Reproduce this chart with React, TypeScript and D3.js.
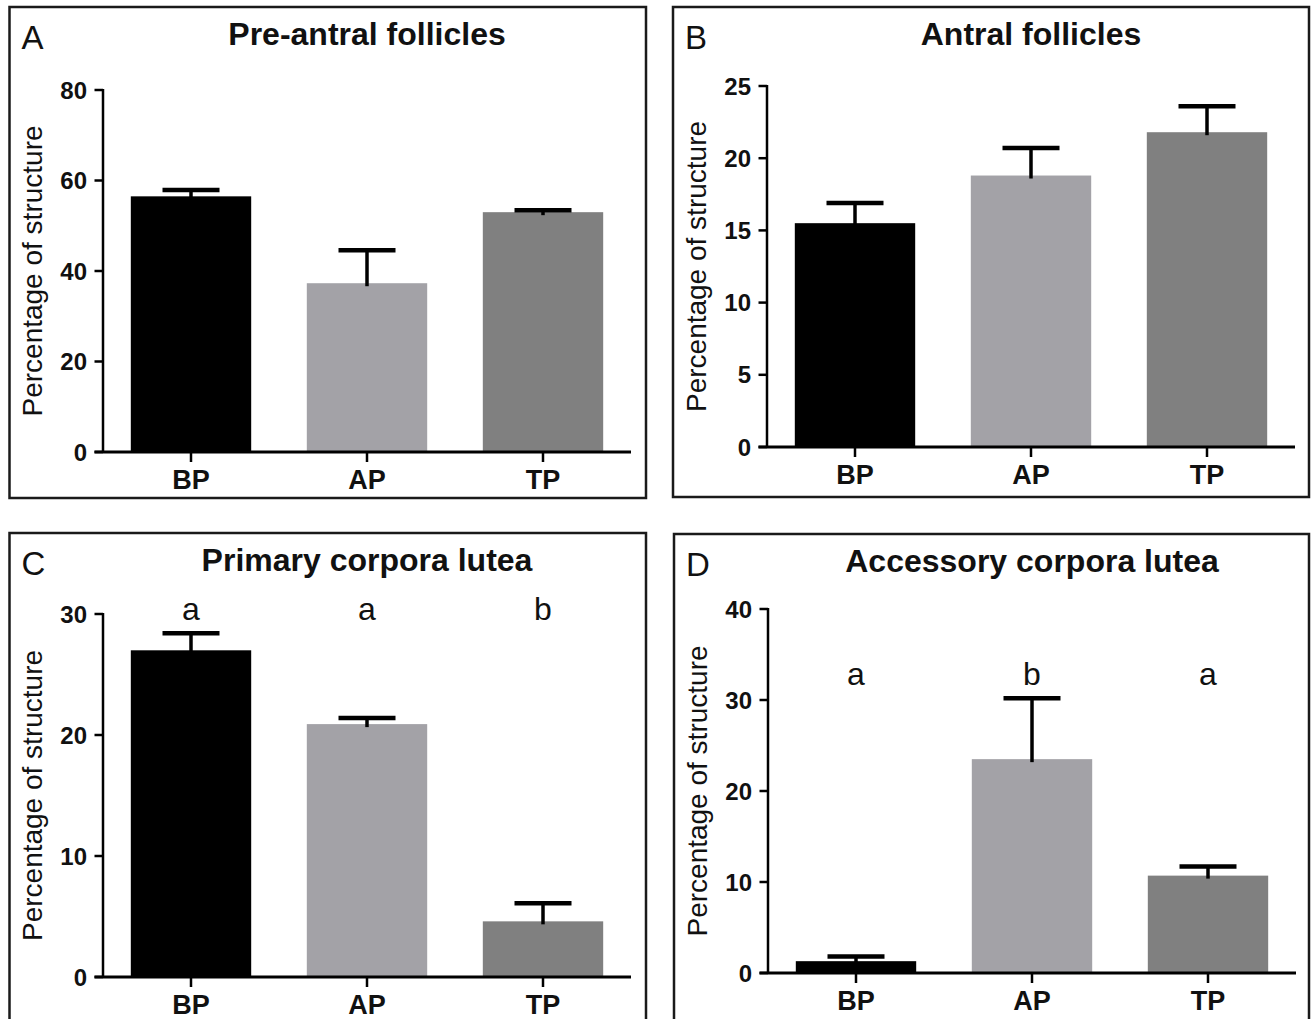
import { useEffect, useRef } from 'react';
import * as d3 from 'd3';

const groups = ['BP', 'AP', 'TP'];
const barColors = ['#000000', '#a3a2a7', '#808080'];

// A - pre-antral follicles
const preAntralMeans = [56.5, 37.3, 53.0];
const preAntralErrors = [1.4, 7.3, 0.4];
const preAntralTicks = [0, 20, 40, 60, 80];

// B - antral follicles
const antralMeans = [15.5, 18.8, 21.8];
const antralErrors = [1.4, 1.9, 1.8];
const antralTicks = [0, 5, 10, 15, 20, 25];

// C - primary corpora lutea
const primaryMeans = [27.0, 20.9, 4.6];
const primaryErrors = [1.4, 0.5, 1.5];
const primaryTicks = [0, 10, 20, 30];
const primaryLetters = ['a', 'a', 'b'];

// D - accessory corpora lutea
const accessoryMeans = [1.3, 23.5, 10.7];
const accessoryErrors = [0.5, 6.7, 1.0];
const accessoryTicks = [0, 10, 20, 30, 40];
const accessoryLetters = ['a', 'b', 'a'];

const SANS = "'Liberation Sans', Arial, Helvetica, sans-serif";

interface Panel {
  tag: string;
  title: string;
  means: number[];
  errors: number[];
  ticks: number[];
  letters?: string[];
  letterAt?: number;
  box: [number, number, number, number];
  plot: { left: number; right: number; top: number; bottom: number };
}

const panels: Panel[] = [
  {
    tag: 'A', title: 'Pre-antral follicles',
    means: preAntralMeans, errors: preAntralErrors, ticks: preAntralTicks,
    box: [9.5, 7, 646, 498],
    plot: { left: 103, right: 631, top: 90, bottom: 452 },
  },
  {
    tag: 'B', title: 'Antral follicles',
    means: antralMeans, errors: antralErrors, ticks: antralTicks,
    box: [673, 7, 1309, 497],
    plot: { left: 767, right: 1295, top: 86, bottom: 447 },
  },
  {
    tag: 'C', title: 'Primary corpora lutea',
    means: primaryMeans, errors: primaryErrors, ticks: primaryTicks,
    letters: primaryLetters, letterAt: 29.5,
    box: [9.5, 533, 646, 1040],
    plot: { left: 103, right: 631, top: 614, bottom: 977 },
  },
  {
    tag: 'D', title: 'Accessory corpora lutea',
    means: accessoryMeans, errors: accessoryErrors, ticks: accessoryTicks,
    letters: accessoryLetters, letterAt: 31.7,
    box: [674, 534, 1309, 1040],
    plot: { left: 768, right: 1296, top: 609, bottom: 973 },
  },
];

export default function App() {
  const ref = useRef<SVGSVGElement>(null);

  useEffect(() => {
    if (!ref.current) return;
    const svg = d3.select(ref.current);
    svg.selectAll('*').remove();

    panels.forEach((p) => {
      const g = svg.append('g');
      const { left, right, top, bottom } = p.plot;
      const yMax = p.ticks[p.ticks.length - 1];

      const x = d3.scaleBand().domain(groups).range([left, right]).paddingInner(0.316).paddingOuter(0.158);
      const y = d3.scaleLinear().domain([0, yMax]).range([bottom, top]);

      // frame
      g.append('rect')
        .attr('x', p.box[0])
        .attr('y', p.box[1])
        .attr('width', p.box[2] - p.box[0])
        .attr('height', p.box[3] - p.box[1])
        .attr('fill', 'none')
        .attr('stroke', '#1a1a1a')
        .attr('stroke-width', 2.5);

      // panel tag and title
      g.append('text')
        .attr('x', p.box[0] + 12)
        .attr('y', p.box[1] + 42)
        .attr('font-family', SANS)
        .attr('font-size', 33)
        .attr('fill', '#111')
        .text(p.tag);

      g.append('text')
        .attr('x', (left + right) / 2)
        .attr('y', p.box[1] + 38)
        .attr('text-anchor', 'middle')
        .attr('font-family', SANS)
        .attr('font-weight', 'bold')
        .attr('font-size', 32)
        .attr('fill', '#111')
        .text(p.title);

      // bars
      g.selectAll('rect.bar')
        .data(p.means)
        .enter()
        .append('rect')
        .attr('class', 'bar')
        .attr('x', (_, i) => x(groups[i]) ?? 0)
        .attr('y', (d) => y(d))
        .attr('width', x.bandwidth())
        .attr('height', (d) => bottom - y(d))
        .attr('fill', (_, i) => barColors[i]);

      // error bars (upper only)
      const cx = (i: number) => (x(groups[i]) ?? 0) + x.bandwidth() / 2;
      p.means.forEach((m, i) => {
        const yTop = y(m + p.errors[i]);
        g.append('line')
          .attr('x1', cx(i)).attr('x2', cx(i))
          .attr('y1', y(m) + 3).attr('y2', yTop)
          .attr('stroke', '#000').attr('stroke-width', 3.5);
        g.append('line')
          .attr('x1', cx(i) - 28.5).attr('x2', cx(i) + 28.5)
          .attr('y1', yTop).attr('y2', yTop)
          .attr('stroke', '#000').attr('stroke-width', 4.5);
      });

      // y axis
      g.append('line')
        .attr('x1', left).attr('x2', left)
        .attr('y1', top - 1).attr('y2', bottom)
        .attr('stroke', '#000').attr('stroke-width', 2.5);
      p.ticks.forEach((t) => {
        g.append('line')
          .attr('x1', left - 8.5).attr('x2', left)
          .attr('y1', y(t)).attr('y2', y(t))
          .attr('stroke', '#000').attr('stroke-width', 2.5);
        g.append('text')
          .attr('x', left - 16)
          .attr('y', y(t))
          .attr('dy', '0.36em')
          .attr('text-anchor', 'end')
          .attr('font-family', SANS)
          .attr('font-weight', 'bold')
          .attr('font-size', 24)
          .attr('fill', '#111')
          .text(t);
      });

      // x axis
      g.append('line')
        .attr('x1', left - 8.5).attr('x2', right)
        .attr('y1', bottom).attr('y2', bottom)
        .attr('stroke', '#000').attr('stroke-width', 3);
      groups.forEach((grp, i) => {
        g.append('line')
          .attr('x1', cx(i)).attr('x2', cx(i))
          .attr('y1', bottom).attr('y2', bottom + 10)
          .attr('stroke', '#000').attr('stroke-width', 2.5);
        g.append('text')
          .attr('x', cx(i))
          .attr('y', bottom + 37)
          .attr('text-anchor', 'middle')
          .attr('font-family', SANS)
          .attr('font-weight', 'bold')
          .attr('font-size', 27)
          .attr('fill', '#111')
          .text(grp);
      });

      // y label
      g.append('text')
        .attr('transform', `translate(${left - 61},${(top + bottom) / 2}) rotate(-90)`)
        .attr('text-anchor', 'middle')
        .attr('font-family', SANS)
        .attr('font-size', 28)
        .attr('fill', '#111')
        .text('Percentage of structure');

      // significance letters
      if (p.letters && p.letterAt !== undefined) {
        p.letters.forEach((l, i) => {
          g.append('text')
            .attr('x', cx(i))
            .attr('y', y(p.letterAt!))
            .attr('text-anchor', 'middle')
            .attr('font-family', SANS)
            .attr('font-size', 32)
            .attr('fill', '#111')
            .text(l);
        });
      }
    });
  }, []);

  return (
    <svg
      ref={ref}
      width={1312}
      height={1019}
      style={{ position: 'absolute', left: 0, top: 0, background: '#fff' }}
    />
  );
}
